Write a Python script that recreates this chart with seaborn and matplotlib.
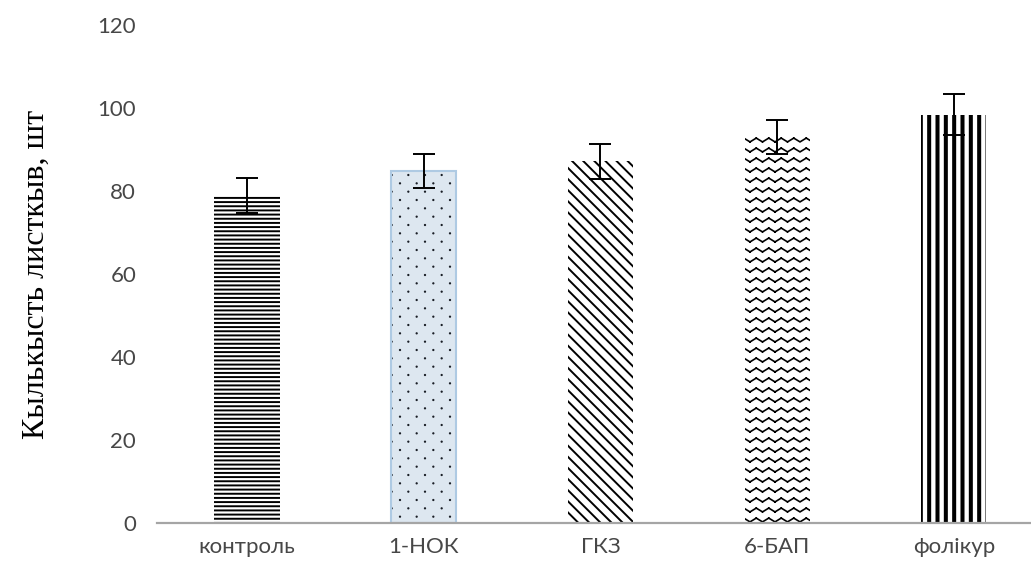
import warnings
import numpy as np
import matplotlib
matplotlib.use("Agg")
import matplotlib.pyplot as plt
import matplotlib.hatch as mhatch
from matplotlib.path import Path
import seaborn as sns

warnings.filterwarnings("ignore")

# Data
categories = ["контроль", "1-НОК", "ГКЗ", "6-БАП", "фолікур"]
values = [79.0, 84.8, 87.2, 93.0, 98.4]
errors = [4.2, 4.2, 4.2, 4.2, 5.0]
y_ticks = [0, 20, 40, 60, 80, 100, 120]
y_label = "Кылькысть листкыв, шт"


# Extra hatch patterns: wavy zigzag rows ('z') and staggered small dots ('d')
class ZigzagHatch(mhatch.HatchPatternBase):
    def __init__(self, hatch, density):
        n = hatch.count("z")
        self.num_rows = 10 * n
        self.num_periods = 8
        self.seg_per_row = 2 * self.num_periods
        self.num_vertices = (self.num_rows + 1) * self.seg_per_row * 2 if n else 0

    def set_vertices_and_codes(self, vertices, codes):
        npts = self.seg_per_row + 1
        xs = np.linspace(0, 1, npts)
        wig = np.where(np.arange(npts) % 2 == 0, -1.0, 1.0) * 0.019
        k = 0
        for r in range(self.num_rows + 1):
            y = r / self.num_rows
            for i in range(self.seg_per_row):
                vertices[k] = (xs[i], y + wig[i])
                vertices[k + 1] = (xs[i + 1], y + wig[i + 1])
                codes[k] = Path.MOVETO
                codes[k + 1] = Path.LINETO
                k += 2


class DotHatch(mhatch.HatchPatternBase):
    def __init__(self, hatch, density):
        n = hatch.count("d")
        self.num_rows = 2 * density * n
        self.num_cols = density * n
        self.circle = Path.unit_circle()
        nv = len(self.circle.vertices)
        self.positions = []
        if n:
            for r in range(self.num_rows + 1):
                y = r / self.num_rows
                if r % 2 == 0:
                    xs = np.linspace(0, 1, self.num_cols + 1)
                else:
                    xs = np.linspace(0.5 / self.num_cols, 1 - 0.5 / self.num_cols, self.num_cols)
                for x in xs:
                    self.positions.append((x, y))
        self.num_vertices = len(self.positions) * nv

    def set_vertices_and_codes(self, vertices, codes):
        cv = self.circle.vertices * 0.005
        cc = self.circle.codes
        nv = len(cv)
        for i, (x, y) in enumerate(self.positions):
            vertices[i * nv:(i + 1) * nv] = cv + (x, y)
            codes[i * nv:(i + 1) * nv] = cc


mhatch._hatch_types.extend([ZigzagHatch, DotHatch])

sns.set_theme(style="white")
plt.rcParams["font.family"] = ["Lato", "DejaVu Sans"]

fig = plt.figure(figsize=(10.31, 5.70), dpi=100)
ax = fig.add_axes([0.1523, 0.0825, 0.8477, 0.8737])

fills = ["white", "#dae7f3", "white", "white", "white"]
sns.barplot(x=categories, y=values, hue=categories, palette=fills,
            legend=False, width=0.368, errorbar=None, ax=ax)

hatches = ["----", "d", "\\\\\\", "z", "||"]
hatch_lw = [1.4, 0.9, 1.4, 1.2, 2.9]
for bar, h, lw, fc in zip(ax.patches, hatches, hatch_lw, fills):
    bar.set_hatch(h)
    bar.set_hatch_linewidth(lw)
    if fc == "white":
        bar.set_edgecolor("black")
        bar.set_linewidth(0)
    else:
        bar.set_edgecolor("#aecae3")
        bar.set_linewidth(1.5)
        bar._hatch_color = (0.1, 0.12, 0.15, 1.0)

ax.errorbar(x=np.arange(len(categories)), y=values, yerr=errors, fmt="none",
            ecolor="black", elinewidth=1.4, capsize=8, capthick=1.4)

ax.set_ylim(0, 120)
ax.set_xlim(-0.509, 4.436)
ax.set_yticks(y_ticks)
ax.set_yticklabels([str(t) for t in y_ticks])

for side in ["top", "right", "left"]:
    ax.spines[side].set_visible(False)
ax.spines["bottom"].set_color("#a5a5a5")
ax.spines["bottom"].set_linewidth(1.6)

ax.tick_params(axis="both", length=0, colors="#474747", labelsize=16)
ax.tick_params(axis="y", pad=15)
ax.tick_params(axis="x", pad=10)

ax.set_xlabel("")
ax.set_ylabel(y_label, family="Liberation Serif", fontsize=23, color="black",
              labelpad=34)

fig.savefig("out.png", dpi=100)
